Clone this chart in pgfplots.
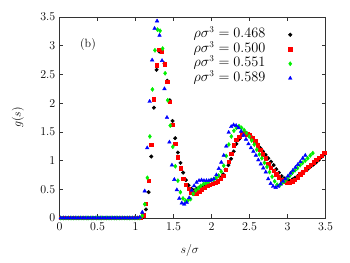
\documentclass[12pt,border=0pt]{standalone}
\usepackage{pgfplots}
\pgfplotsset{compat=1.18}
\usepackage{pgfplotstable}

\pgfplotstableread{
s g
0.0175 0
0.0525 0
0.0875 0
0.1225 0
0.1575 0
0.1925 0
0.2275 0
0.2625 0
0.2975 0
0.3325 0
0.3675 0
0.4025 0
0.4375 0
0.4725 0
0.5075 0
0.5425 0
0.5775 0
0.6125 0
0.6475 0
0.6825 0
0.7175 0
0.7525 0
0.7875 0
0.8225 0
0.8575 0
0.8925 0
0.9275 0
0.9625 0
0.9975 0
1.0325 0
1.0675 0
1.1025 0.02
1.1375 0.15
1.1725 0.45
1.2075 1.07
1.2425 1.92
1.2775 2.58
1.3125 2.90
1.3475 2.90
1.3825 2.69
1.4175 2.39
1.4525 2.05
1.4875 1.69
1.5225 1.39
1.5575 1.14
1.5925 0.96
1.6275 0.79
1.6625 0.66
1.6975 0.57
1.7325 0.51
1.7675 0.48
1.8025 0.51
1.8375 0.53
1.8725 0.54
1.9075 0.55
1.9425 0.57
1.9775 0.58
2.0125 0.59
2.0475 0.61
2.0825 0.65
2.1175 0.70
2.1525 0.76
2.1875 0.84
2.2225 0.92
2.2575 1.03
2.2925 1.16
2.3275 1.29
2.3625 1.37
2.3975 1.44
2.4325 1.47
2.4675 1.47
2.5025 1.45
2.5375 1.40
2.5725 1.34
2.6075 1.28
2.6425 1.22
2.6775 1.16
2.7125 1.10
2.7475 1.04
2.7825 0.98
2.8175 0.92
2.8525 0.85
2.8875 0.79
2.9225 0.73
2.9575 0.69
2.9925 0.66
3.0275 0.65
3.0625 0.67
3.0975 0.70
3.1325 0.73
3.1675 0.77
3.2025 0.80
3.2375 0.83
3.2725 0.86
3.3075 0.90
3.3425 0.93
3.3775 0.97
3.4125 1.01
3.4475 1.06
3.4825 1.11
}\tblack

\pgfplotstableread{
s g
0.0175 0
0.0525 0
0.0875 0
0.1225 0
0.1575 0
0.1925 0
0.2275 0
0.2625 0
0.2975 0
0.3325 0
0.3675 0
0.4025 0
0.4375 0
0.4725 0
0.5075 0
0.5425 0
0.5775 0
0.6125 0
0.6475 0
0.6825 0
0.7175 0
0.7525 0
0.7875 0
0.8225 0
0.8575 0
0.8925 0
0.9275 0
0.9625 0
0.9975 0
1.0325 0
1.0675 0
1.1025 0.05
1.1375 0.25
1.1725 0.65
1.2075 1.28
1.2425 2.07
1.2775 2.66
1.3125 2.93
1.3475 2.90
1.3825 2.68
1.4175 2.37
1.4525 2.02
1.4875 1.62
1.5225 1.29
1.5575 1.06
1.5925 0.87
1.6275 0.68
1.6625 0.58
1.6975 0.51
1.7325 0.45
1.7675 0.42
1.8025 0.43
1.8375 0.46
1.8725 0.50
1.9075 0.53
1.9425 0.56
1.9775 0.58
2.0125 0.60
2.0475 0.62
2.0825 0.64
2.1175 0.68
2.1525 0.74
2.1875 0.84
2.2225 0.98
2.2575 1.12
2.2925 1.27
2.3275 1.36
2.3625 1.42
2.3975 1.46
2.4325 1.48
2.4675 1.46
2.5025 1.44
2.5375 1.39
2.5725 1.34
2.6075 1.27
2.6425 1.19
2.6775 1.11
2.7125 1.04
2.7475 0.95
2.7825 0.88
2.8175 0.82
2.8525 0.76
2.8875 0.71
2.9225 0.67
2.9575 0.64
2.9925 0.62
3.0275 0.62
3.0625 0.64
3.0975 0.67
3.1325 0.71
3.1675 0.76
3.2025 0.80
3.2375 0.85
3.2725 0.89
3.3075 0.93
3.3425 0.97
3.3775 1.01
3.4125 1.05
3.4475 1.09
3.4825 1.14
}\tred

\pgfplotstableread{
s g
0.017 0
0.050 0
0.084 0
0.117 0
0.151 0
0.184 0
0.218 0
0.251 0
0.285 0
0.318 0
0.352 0
0.385 0
0.419 0
0.452 0
0.486 0
0.519 0
0.553 0
0.586 0
0.620 0
0.653 0
0.687 0
0.720 0
0.754 0
0.787 0
0.821 0
0.854 0
0.888 0
0.921 0
0.955 0
0.988 0
1.022 0
1.055 0
1.089 0.04
1.122 0.24
1.156 0.70
1.189 1.42
1.223 2.24
1.256 2.92
1.290 3.28
1.323 3.26
1.357 2.95
1.390 2.52
1.424 2.05
1.457 1.61
1.491 1.24
1.524 0.90
1.558 0.65
1.591 0.45
1.625 0.34
1.658 0.30
1.692 0.31
1.725 0.33
1.759 0.42
1.792 0.48
1.826 0.52
1.859 0.56
1.893 0.59
1.926 0.61
1.960 0.63
1.993 0.66
2.027 0.67
2.060 0.70
2.094 0.74
2.127 0.81
2.161 0.91
2.194 1.08
2.228 1.28
2.261 1.42
2.295 1.52
2.328 1.57
2.362 1.60
2.395 1.57
2.429 1.53
2.462 1.48
2.496 1.42
2.529 1.35
2.563 1.28
2.596 1.19
2.630 1.11
2.663 1.04
2.697 0.96
2.730 0.89
2.764 0.80
2.797 0.72
2.831 0.64
2.864 0.58
2.898 0.57
2.931 0.61
2.965 0.64
2.998 0.69
3.032 0.74
3.065 0.79
3.099 0.83
3.132 0.87
3.166 0.92
3.199 0.96
3.233 1.00
3.266 1.04
3.300 1.09
3.333 1.13
}\tgreen

\pgfplotstableread{
s g
0.016 0
0.049 0
0.081 0
0.114 0
0.146 0
0.179 0
0.211 0
0.244 0
0.276 0
0.309 0
0.341 0
0.374 0
0.406 0
0.439 0
0.471 0
0.504 0
0.536 0
0.569 0
0.601 0
0.634 0
0.666 0
0.699 0
0.731 0
0.764 0
0.796 0
0.829 0
0.861 0
0.894 0
0.926 0
0.959 0
0.991 0
1.024 0
1.056 0.01
1.089 0.10
1.121 0.47
1.154 1.22
1.186 2.03
1.219 2.75
1.251 3.30
1.284 3.43
1.316 3.18
1.349 2.74
1.381 2.25
1.414 1.75
1.446 1.32
1.479 0.92
1.511 0.67
1.544 0.49
1.576 0.34
1.609 0.26
1.641 0.24
1.674 0.27
1.706 0.35
1.739 0.48
1.771 0.56
1.804 0.62
1.836 0.65
1.869 0.66
1.901 0.65
1.934 0.65
1.966 0.65
1.999 0.66
2.031 0.68
2.064 0.75
2.096 0.86
2.129 0.97
2.161 1.09
2.194 1.25
2.226 1.49
2.259 1.59
2.291 1.62
2.324 1.61
2.356 1.57
2.389 1.51
2.421 1.44
2.454 1.37
2.486 1.29
2.519 1.22
2.551 1.16
2.584 1.09
2.616 1.01
2.649 0.94
2.681 0.87
2.714 0.80
2.746 0.68
2.779 0.60
2.811 0.55
2.844 0.53
2.876 0.55
2.909 0.59
2.941 0.64
2.974 0.68
3.006 0.73
3.039 0.78
3.071 0.83
3.104 0.88
3.136 0.93
3.169 0.98
3.201 1.04
3.234 1.09
}\tblue

\definecolor{gpgreen}{RGB}{0,240,0}

\begin{document}
\begin{tikzpicture}
\path[use as bounding box] (0,0) rectangle (350bp,263bp);
\begin{axis}[
  at={(59.5bp,45bp)}, anchor=south west,
  scale only axis, width=266bp, height=201bp,
  xmin=0, xmax=3.5, ymin=0, ymax=3.5,
  xtick={0,0.5,...,3.5}, ytick={0,0.5,...,3.5},
  xticklabels={0,0.5,1,1.5,2,2.5,3,3.5},
  yticklabels={0,0.5,1,1.5,2,2.5,3,3.5},
  tick align=inside, major tick length=4bp,
  axis line style={black!80, line width=0.5pt},
  every tick/.style={black!80, line width=0.5pt},
  xlabel={$s/\sigma$}, ylabel={$g(s)$},
  xlabel style={at={(axis description cs:0.49,-0.16)}, anchor=center},
  ylabel style={at={(axis description cs:-0.156,0.5)}, anchor=center},
  legend plot pos=right,
  legend cell align=right,
  legend image code/.code={\path (0cm,0cm); \draw[#1] plot coordinates {(0.85cm,0cm)};},
  legend style={draw=none, fill=none, inner sep=0pt,
    at={(axis description cs:0.875,0.945)}, anchor=north east,
    font=\fontsize{13.5}{15}\selectfont,
    nodes={inner sep=0.5bp, text height=9.2bp, text depth=2.8bp},
    row sep=1.5bp},
  clip=false,
]
\addplot[only marks, mark=*, mark size=1.8pt, black] table[x=s,y=g]{\tblack};
\addlegendentry{$\rho\sigma^3 = 0.468$}
\addplot[only marks, mark=square*, mark size=1.7pt, red] table[x=s,y=g]{\tred};
\addlegendentry{$\rho\sigma^3 = 0.500$}
\addplot[only marks, mark=diamond*, mark size=2.1pt, gpgreen] table[x=s,y=g]{\tgreen};
\addlegendentry{$\rho\sigma^3 = 0.551$}
\addplot[only marks, mark=triangle*, mark size=2.1pt, blue] table[x=s,y=g]{\tblue};
\addlegendentry{$\rho\sigma^3 = 0.589$}
\node at (axis cs:0.375,3.02) {(b)};
\end{axis}
\end{tikzpicture}
\end{document}
